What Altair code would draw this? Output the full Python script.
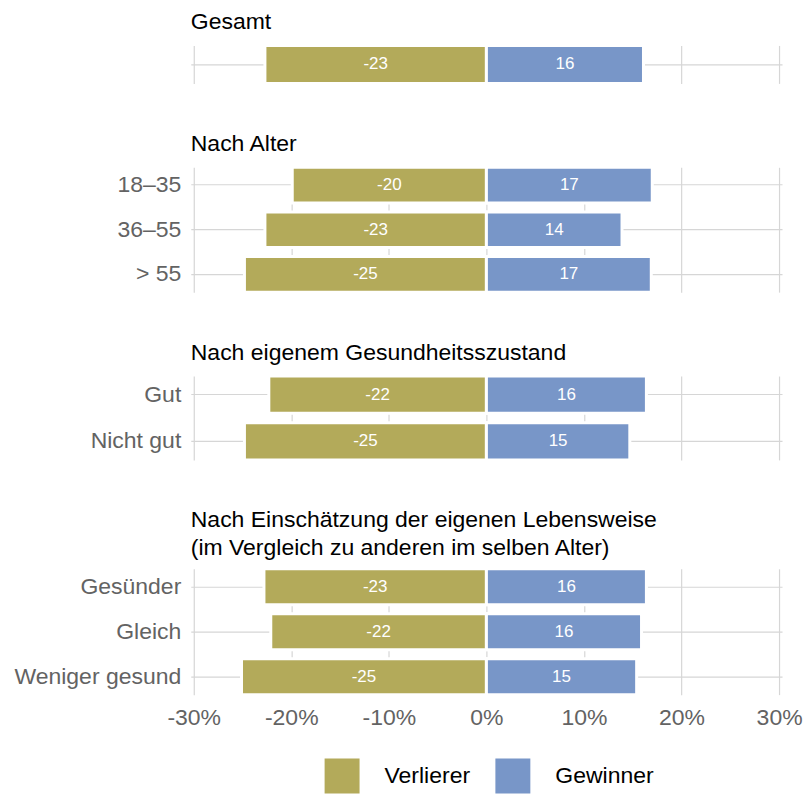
import altair as alt
import pandas as pd

# ---- data ----
panel_titles = [
    "Gesamt",
    "Nach Alter",
    "Nach eigenem Gesundheitsszustand",
    ["Nach Einschätzung der eigenen Lebensweise", "(im Vergleich zu anderen im selben Alter)"],
]
panel_categories = [
    ["Gesamt"],
    ["18–35", "36–55", "> 55"],
    ["Gut", "Nicht gut"],
    ["Gesünder", "Gleich", "Weniger gesund"],
]
verlierer = [
    [-22.7],
    [-19.9, -22.7, -24.8],
    [-22.3, -24.8],
    [-22.8, -22.1, -25.1],
]
gewinner = [
    [16.1],
    [17.0, 13.9, 16.9],
    [16.4, 14.7],
    [16.4, 15.9, 15.4],
]
x_ticks = [-30, -20, -10, 0, 10, 20, 30]
series = ["Verlierer", "Gewinner"]
colors = ["#B3AA5A", "#7896C8"]

panel_heights = [38, 125, 84, 126]
title_offsets = [10, 10, 10, 7]
FONT = "Liberation Sans"
GRID = "#D6D6D6"
LABEL_GRAY = "#636363"


def make_panel(i):
    cats = panel_categories[i]
    rows = []
    for c, v, g in zip(cats, verlierer[i], gewinner[i]):
        rows.append({"kat": c, "serie": "Verlierer", "wert": v})
        rows.append({"kat": c, "serie": "Gewinner", "wert": g})
    df = pd.DataFrame(rows)
    df["label"] = df["wert"].round().astype(int).astype(str)
    df["mitte"] = df["wert"] / 2
    last = i == len(panel_categories) - 1

    x_axis = alt.Axis(
        values=x_ticks,
        labelExpr="datum.value + '%'",
        title=None,
        grid=True,
        gridColor=GRID,
        gridWidth=1.2,
        ticks=False,
        domain=False,
        labels=last,
        labelFontSize=23,
        labelColor=LABEL_GRAY,
        labelPadding=12,
        labelFont=FONT,
        minExtent=0,
        **({} if last else {"maxExtent": 0}),
    )
    x_scale = alt.Scale(domain=[-30.3, 30.3], nice=False, zero=False)
    y = alt.Y(
        "kat:N",
        sort=cats,
        title=None,
        scale=alt.Scale(paddingInner=0.2, paddingOuter=0),
        axis=alt.Axis(
            labels=i > 0,
            ticks=False,
            domain=False,
            grid=True,
            gridColor=GRID,
            gridWidth=1.2,
            labelFontSize=23,
            labelColor=LABEL_GRAY,
            labelPadding=10,
            labelFont=FONT,
            labelLimit=400,
            minExtent=183,
            maxExtent=183,
        ),
    )
    base = alt.Chart(df).encode(y=y)
    bars = base.mark_bar(stroke="white", strokeWidth=3).encode(
        x=alt.X("wert:Q", scale=x_scale, axis=x_axis),
        x2=alt.datum(0),
        color=alt.Color(
            "serie:N",
            scale=alt.Scale(domain=series, range=colors),
            legend=alt.Legend(
                title=" ",
                titleOrient="left",
                titleFontSize=1,
                titlePadding=134,
                orient="bottom",
                offset=29,
                direction="horizontal",
                symbolType="square",
                symbolSize=1225,
                symbolStrokeWidth=0,
                symbolOpacity=1,
                labelFontSize=23,
                labelColor="black",
                labelFont=FONT,
                labelOffset=25,
                columnPadding=25,
            ),
        ),
    )
    text = base.mark_text(color="white", fontSize=17, font=FONT).encode(
        x=alt.X("mitte:Q", scale=x_scale),
        text="label:N",
    )
    return alt.layer(bars, text).properties(
        width=592,
        height=panel_heights[i],
        title=alt.TitleParams(
            panel_titles[i],
            anchor="start",
            frame="group",
            fontSize=23,
            fontWeight="normal",
            font=FONT,
            color="black",
            offset=title_offsets[i],
            lineHeight=28,
        ),
    )


chart = alt.vconcat(*[make_panel(i) for i in range(4)], spacing=47).properties(
    padding={"left": 0, "top": 2, "right": 0, "bottom": 0}
).configure(font=FONT).configure_view(stroke=None)

chart.save("out.html", embed_options={"renderer": "svg", "actions": False})
